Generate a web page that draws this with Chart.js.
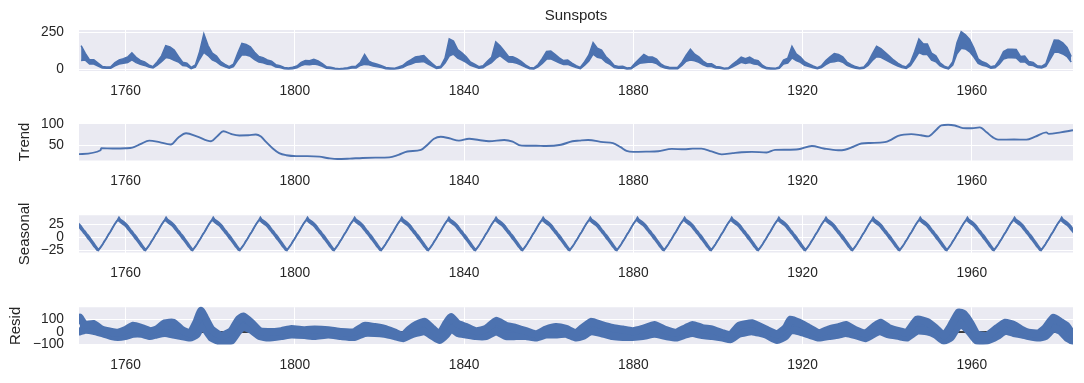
<!DOCTYPE html>
<html><head><meta charset="utf-8">
<script src="https://cdn.jsdelivr.net/npm/chart.js@4.4.0/dist/chart.umd.min.js"></script>
<style>
html,body{margin:0;padding:0;background:#fff;width:1084px;height:383px;overflow:hidden}
canvas{position:absolute;left:0}
</style></head><body>
<canvas id="c1" width="1084" height="100" style="top:0px"></canvas>
<canvas id="c2" width="1084" height="92" style="top:100px"></canvas>
<canvas id="c3" width="1084" height="92" style="top:192px"></canvas>
<canvas id="c4" width="1084" height="99" style="top:284px"></canvas>
<script>
// ---------------- DATA ----------------
const chartTitle = 'Sunspots';
const xTickLabels = [1760, 1800, 1840, 1880, 1920, 1960];
const FIRST_YEAR = 1749;
const X_MIN = 1749.0, X_MAX = 1983.92;

const obsLo = [
 59,61,34,34,21,7,5,6,22,34,
 39,45,62,44,32,25,14,7,26,50,
 78,74,59,48,24,21,3,13,67,114,
 92,62,49,27,15,6,16,60,97,96,
 87,65,48,43,33,29,14,10,3,1,
 3,9,24,32,30,34,30,19,6,4,
 0,0,0,2,7,8,25,32,29,21,
 16,10,3,1,0,4,10,25,35,46,
 48,51,34,19,4,8,41,89,102,75,
 62,46,26,16,6,9,28,44,72,92,
 70,48,46,39,27,13,3,1,15,39,
 68,70,56,42,31,33,21,10,3,26,
 54,102,81,74,48,32,11,6,7,1,
 3,22,39,43,46,46,37,17,8,3,
 3,3,25,53,62,57,46,29,18,18,
 7,5,0,2,16,30,46,38,45,34,
 31,12,2,1,0,5,34,41,76,58,
 46,26,18,9,2,11,31,46,50,56,
 47,25,14,6,2,5,25,58,84,80,
 65,49,34,21,10,5,23,67,112,100,
 99,61,50,22,8,1,27,104,141,137,
 117,82,38,26,19,6,9,33,68,77,
 77,76,48,50,27,24,10,7,19,67,
 115,114,103,85,48];
const obsHi = [
 159,107,63,63,41,18,15,16,44,63,
 71,82,110,80,59,49,29,17,50,90,
 160,150,130,86,47,41,12,28,119,240,
 160,109,88,51,32,16,33,107,175,167,
 151,115,86,78,62,54,30,23,11,8,
 12,21,46,59,57,67,56,38,16,13,
 6,2,5,9,18,20,47,100,54,41,
 33,23,11,8,5,14,24,48,65,83,
 87,92,63,37,14,20,74,205,190,132,
 110,84,49,33,16,22,53,80,185,159,
 123,86,84,71,52,29,11,8,31,72,
 120,123,100,77,58,62,41,23,12,50,
 96,180,142,130,86,59,24,17,19,7,
 11,43,71,100,83,82,68,35,19,12,
 11,12,47,94,135,101,83,55,36,36,
 18,15,6,9,34,56,82,70,81,64,
 58,26,10,8,5,15,62,74,155,104,
 82,50,36,21,10,24,58,83,105,100,
 84,48,30,17,10,14,48,103,155,140,
 114,88,62,41,23,15,45,119,205,173,
 171,108,90,42,20,9,51,180,255,234,
 202,143,70,50,38,16,22,62,120,135,
 135,134,86,89,51,46,22,19,37,119,
 197,196,179,148,86];

// Trend (read at points)
const trendYears = [1749.0,1754.1,1754.25,1757,1760,1761.6,1763.5,1765.6,1768,1770.7,1772.5,1774.3,1777,1780.2,1781.8,1783.1,1785,1786.9,1789,1790.8,1792,1793.2,1794.8,1796.3,1798,1800.3,1803,1805.8,1808,1810.1,1813,1816,1819,1822.3,1824.5,1826.6,1829.8,1831.5,1832.9,1834.5,1836.5,1838.8,1841.2,1843.5,1845.9,1849.5,1851.5,1853,1854.6,1857,1859.3,1862.9,1865.6,1867.2,1869.3,1872.9,1875.2,1877,1878.4,1880,1883,1885.9,1889.1,1892,1894,1896.1,1898.5,1900.9,1903.5,1905.6,1908,1911.5,1913.5,1916,1919,1922.2,1925,1928.4,1930,1932,1933.9,1936,1939.4,1941,1942.6,1945.7,1948,1949.7,1951.5,1952.8,1954.4,1956,1957.9,1960,1961.9,1963.5,1965,1966.2,1970,1972.9,1975,1977.6,1978.2,1981,1983.92];
const trendValues = [28.6,37.7,42.3,42,42.5,44,52,60.5,57,51.4,68,78,70,59,72,82.5,76,72.7,73,75,70,57.5,42,31,26,24,24,22.7,19,17,18,19.6,20.3,21,27,34.8,38.6,52,65,69.6,66,60.5,65,62,59,62,58,50,48.4,48.5,47.7,50.7,59,60.5,62,56.8,54.5,45,36.4,34,34.5,35.5,41,40,41.5,41.6,35,28,31,33.2,34,32.5,38.6,39,40,47.7,42,37.7,39,46,53.6,55,56.8,63,71.8,75.7,73,70.5,85,96.5,98,96,90,89.5,91.6,80,68,62.7,63,62.7,70,80,76.4,80,84.8];

// Seasonal: one cycle (32 samples starting at the peak), upper / lower edge of the noisy line;
// period and first peak
const SEASONAL_PEAK = 1758.45, SEASONAL_PERIOD = 11.14;
const seasonalUpper = [38,34,32,30,28,25,22,18,14,11,7,4,0,-4,-8,-12,-16,-20,-24,-21,-17,-13,-8,-4,1,6,10,15,20,25,29,33];
const seasonalLower = [31,28,26,24,22,19,15,12,8,5,1,-3,-6,-10,-14,-18,-21,-25,-26,-22,-18,-14,-9,-5,0,5,9,14,19,24,28,32];

// Residual band (read at points): high and low of the marker cloud
const residYears = [1749.2,1750.4,1752.4,1754.3,1756.7,1758.2,1759.9,1761.8,1763.8,1765.8,1767.3,1769.3,1771.3,1773.2,1775.2,1776.8,1777.8,1778.7,1780.3,1782.7,1785.0,1786.6,1787.8,1789.7,1791.7,1793.7,1796.8,1799.2,1802.3,1804.7,1807.9,1811.0,1814.1,1816.5,1818.9,1821.2,1823.6,1825.6,1827.1,1828.7,1830.7,1832.6,1834.2,1835.8,1836.9,1838.5,1840.5,1842.8,1845.2,1847.6,1849.9,1852.3,1854.6,1857.0,1859.4,1861.7,1864.1,1866.4,1868.0,1870.0,1872.4,1875.1,1877.5,1879.8,1882.2,1885.0,1887.7,1890.1,1892.4,1894.0,1896.3,1898.7,1901.1,1903.0,1905.0,1908.1,1911.3,1914.0,1916.0,1917.2,1919.2,1921.5,1923.9,1926.2,1928.6,1930.2,1932.5,1934.9,1937.2,1938.4,1940.4,1942.8,1944.7,1947.1,1949.4,1951.4,1953.4,1955.0,1956.9,1958.1,1959.7,1961.2,1963.6,1966.0,1967.9,1969.9,1971.9,1973.4,1975.8,1977.4,1979.3,1980.9,1982.5,1983.7];
const residHi = [115,57,65,20,0,-5,15,50,32,7,20,70,75,20,-10,82,170,120,20,-30,7,95,125,75,7,0,7,25,15,20,15,0,0,50,40,25,-5,-30,20,57,82,25,-18,70,120,65,40,7,25,90,50,32,7,-18,20,40,25,-10,32,82,57,32,20,7,25,57,15,-5,32,57,32,20,-10,-25,50,70,20,-18,32,100,75,32,-10,20,40,57,15,-10,50,75,32,7,-5,100,82,32,-30,45,158,145,70,-18,-30,32,75,57,15,-5,-10,32,115,82,45,-18];
const residLo = [5,17,10,-8,-33,-40,-33,-15,-15,-33,-20,-8,-20,-33,-45,-20,42,30,-45,-83,-70,5,42,17,-33,-45,-33,-20,-25,-33,-20,-33,-40,-8,-8,-15,-33,-50,-27,-8,5,-33,-65,-20,30,-8,-20,-33,-33,5,-33,-33,-33,-45,-20,-20,-15,-45,-33,5,-8,-33,-40,-40,-33,-15,-33,-45,-20,-8,-25,-33,-45,-58,-15,5,-20,-65,-33,17,5,-20,-45,-33,-20,-8,-25,-50,-8,5,-20,-33,-45,10,5,-20,-70,-45,55,50,-8,-70,-70,-33,10,-8,-20,-33,-45,-33,30,10,-45,-70];

const yTicks1 = [0, 250], yTicks2 = [50, 100], yTicks3 = [-25, 0, 25], yTicks4 = [-100, 0, 100];

// ---------------- RENDER ----------------
const BLUE = '#4C72B0', TXT = '#262626', BG = '#EAEAF2';
const FONT = '"Liberation Sans", Arial, Helvetica, sans-serif';

const bgPlugin = { id: 'bg', beforeDraw(chart) {
  const a = chart.chartArea, ctx = chart.ctx;
  ctx.save(); ctx.fillStyle = BG; ctx.fillRect(a.left, a.top, a.right - a.left, a.bottom - a.top); ctx.restore();
}};
// axes title centred over the plotting area (as matplotlib does)
const axTitlePlugin = { id: 'axTitle', afterDraw(chart, args, opts) {
  if (!opts.text) return;
  const a = chart.chartArea, ctx = chart.ctx;
  ctx.save(); ctx.fillStyle = TXT; ctx.font = '15px ' + FONT; ctx.textAlign = 'center'; ctx.textBaseline = 'middle';
  ctx.fillText(opts.text, (a.left + a.right) / 2, a.top - 14); ctx.restore();
}};

function panel(id, datasets, cfg) {
  return new Chart(document.getElementById(id), {
    type: 'line',
    data: { datasets },
    options: {
      responsive: false, animation: false, events: [],
      layout: { padding: { top: cfg.padTop, left: 0, right: 11, bottom: 0 } },
      plugins: {
        legend: { display: false }, tooltip: { enabled: false }, title: { display: false },
        axTitle: { text: cfg.title || '' }
      },
      scales: {
        x: { type: 'linear', min: X_MIN, max: X_MAX,
          afterBuildTicks: s => { s.ticks = xTickLabels.map(v => ({ value: v })); },
          afterFit: s => { s.height = cfg.xH; },
          grid: { color: '#ffffff', lineWidth: 1, drawTicks: false },
          border: { display: false },
          ticks: { padding: 12, color: TXT, font: { family: FONT, size: 13.75 }, maxRotation: 0, autoSkip: false,
            callback: v => String(v) } },
        y: { type: 'linear', min: cfg.yMin, max: cfg.yMax,
          afterBuildTicks: s => { s.ticks = cfg.yTicks.map(v => ({ value: v })); },
          afterFit: s => { s.width = 79; },
          grid: { color: '#ffffff', lineWidth: 1, drawTicks: false },
          border: { display: false },
          ticks: { padding: 15, color: TXT, font: { family: FONT, size: 13.75 }, autoSkip: false,
            callback: v => String(v).replace('-', '\u2212') },
          title: cfg.yTitle ? { display: true, text: cfg.yTitle, color: TXT,
            font: { family: FONT, size: 15 }, padding: { top: cfg.yTitlePad, bottom: 0 } } : { display: false } }
      }
    },
    plugins: [bgPlugin, axTitlePlugin]
  });
}

const lineStyle = { borderColor: BLUE, borderWidth: 1.9, pointRadius: 0, fill: false, tension: 0, clip: 0 };

// Observed: noisy band between the low and high excursion of each year
panel('c1', [
  Object.assign({}, lineStyle, { data: obsHi.map((v, i) => ({ x: FIRST_YEAR + i + 0.5, y: v })), borderWidth: 1.5 }),
  Object.assign({}, lineStyle, { data: obsLo.map((v, i) => ({ x: FIRST_YEAR + i + 0.5, y: v })), borderWidth: 1.5, fill: '-1', backgroundColor: BLUE })
], { padTop: 30, xH: 29, yMin: -13, yMax: 266, yTicks: yTicks1, title: chartTitle });

// Trend
panel('c2', [Object.assign({ data: trendYears.map((x, i) => ({ x, y: trendValues[i] })), cubicInterpolationMode: 'monotone' }, lineStyle)],
  { padTop: 21.5, xH: 31.5, yMin: 13.6, yMax: 101.4, yTicks: yTicks2, yTitle: 'Trend', yTitlePad: 15.5 });

// Seasonal
const seasUp = [], seasLo = [];
for (let c = -1; c <= 21; c++) {
  seasonalUpper.forEach((v, j) => {
    const x = SEASONAL_PEAK + (c + j / seasonalUpper.length) * SEASONAL_PERIOD;
    seasUp.push({ x, y: v });
    seasLo.push({ x, y: seasonalLower[j] });
  });
}
panel('c3', [
  Object.assign({}, lineStyle, { data: seasUp, borderWidth: 1.6 }),
  Object.assign({}, lineStyle, { data: seasLo, borderWidth: 1.6, fill: '-1', backgroundColor: BLUE })
], { padTop: 21.5, xH: 31.5, yMin: -29.6, yMax: 41.9, yTicks: yTicks3, yTitle: 'Seasonal', yTitlePad: 15.5 });

// Resid
const bandStyle = { borderColor: BLUE, backgroundColor: BLUE, borderWidth: 8, pointRadius: 0, tension: 0.15,
  borderJoinStyle: 'round', borderCapStyle: 'round', clip: { left: 0, right: 0, top: 3, bottom: 0 }, order: 1 };
panel('c4', [
  Object.assign({ data: residYears.map((x, i) => ({ x, y: residHi[i] })), fill: false }, bandStyle),
  Object.assign({ data: residYears.map((x, i) => ({ x, y: residLo[i] })), fill: '-1' }, bandStyle),
  { data: [{ x: X_MIN, y: 0 }, { x: X_MAX, y: 0 }], borderColor: '#000000', borderWidth: 1.4, pointRadius: 0, fill: false, order: 10, clip: 0 }
], { padTop: 20.5, xH: 38.5, yMin: -100.8, yMax: 199.5, yTicks: yTicks4, yTitle: 'Resid', yTitlePad: 7 });
</script>
</body></html>
